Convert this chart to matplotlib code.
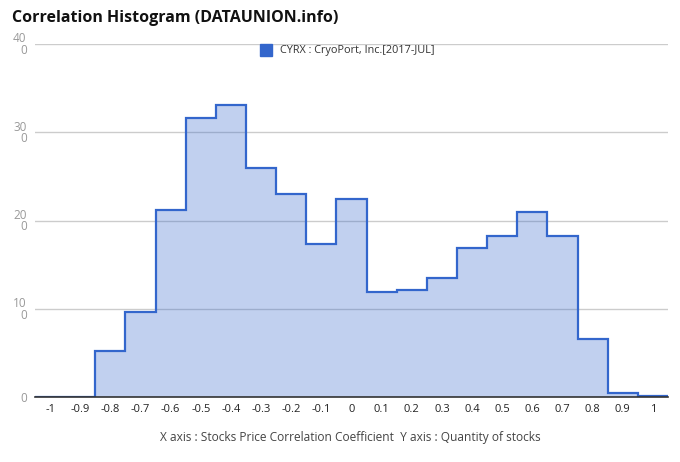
import matplotlib
matplotlib.use("Agg")
import matplotlib.pyplot as plt
import numpy as np
from matplotlib.patches import Rectangle

# correlation bins (centres) and stock counts
bin_centres = [-1.0, -0.9, -0.8, -0.7, -0.6, -0.5, -0.4, -0.3, -0.2, -0.1, 0.0,
               0.1, 0.2, 0.3, 0.4, 0.5, 0.6, 0.7, 0.8, 0.9, 1.0]
counts = [0, 0, 52, 96, 212, 316, 331, 259, 230, 173, 224,
          119, 121, 135, 169, 182, 210, 182, 66, 4, 1]

x_ticks = bin_centres
x_labels = ["-1", "-0.9", "-0.8", "-0.7", "-0.6", "-0.5", "-0.4", "-0.3", "-0.2", "-0.1", "0",
            "0.1", "0.2", "0.3", "0.4", "0.5", "0.6", "0.7", "0.8", "0.9", "1"]
y_ticks = [0, 100, 200, 300, 400]
y_labels = ["0", "10\n0", "20\n0", "30\n0", "40\n0"]

series_name = "CYRX : CryoPort, Inc.[2017-JUL]"
line_col = "#3366cc"

plt.rcParams['font.family'] = ['Open Sans', 'DejaVu Sans']

fig = plt.figure(figsize=(6.8, 4.62), dpi=100)
ax = fig.add_axes([35/680, 1 - 397/462, (668-35)/680, (397-44)/462])

# bin edges half a step either side of the centres
c = np.array(bin_centres)
edges = np.concatenate([[c[0] - 0.05], (c[:-1] + c[1:]) / 2, [c[-1] + 0.05]])
ax.stairs(counts, edges, fill=True, color=line_col, alpha=0.3, linewidth=0)
ax.stairs(counts, edges, color=line_col, linewidth=1.6)

ax.set_xlim(edges[0], edges[-1])
ax.set_ylim(0, 400)

ax.set_yticks(y_ticks)
ax.set_yticklabels(y_labels, fontsize=8.5, color="#999999", linespacing=0.85)
ax.set_xticks(x_ticks)
ax.set_xticklabels(x_labels, fontsize=8, color="#222222")
ax.tick_params(length=0, axis="both")
ax.tick_params(axis="y", pad=6)
ax.tick_params(axis="x", pad=5)

ax.grid(axis="y", color="#cccccc", linewidth=1)
ax.set_axisbelow(True)
for s in ["top", "right", "left"]:
    ax.spines[s].set_visible(False)
ax.spines["bottom"].set_color("#333333")
ax.spines["bottom"].set_linewidth(1.2)
ax.spines["bottom"].set_zorder(5)

# title and legend
fig.text(12/680, 1 - 18/462, "Correlation Histogram (DATAUNION.info)",
         fontsize=11.5, fontweight="bold", color="#111111", va="center")
fig.patches.append(Rectangle((260/680, 1 - 56/462), 12/680, 12/462,
                             transform=fig.transFigure, color=line_col))
fig.text(280/680, 1 - 50/462, series_name, fontsize=7.8, color="#333333", va="center")

fig.text(350/680, 1 - 438/462,
         "X axis : Stocks Price Correlation Coefficient  Y axis : Quantity of stocks",
         fontsize=8.6, color="#444444", ha="center", va="center")

fig.savefig("out.png", dpi=100)
